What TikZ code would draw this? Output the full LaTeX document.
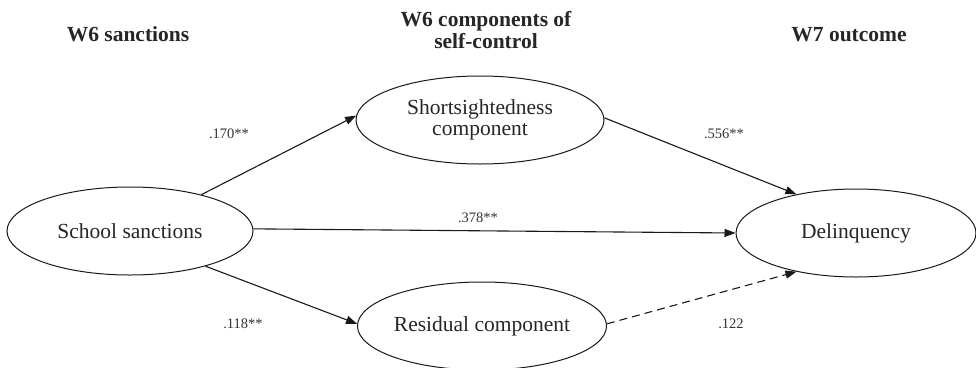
\documentclass[tikz,border=0pt]{standalone}
\usepackage{fontspec}
\setmainfont{Liberation Serif}
\usetikzlibrary{shapes.geometric,arrows.meta}
\begin{document}
\begin{tikzpicture}[x=1pt,y=-1pt,
  latent/.style={draw=black!90,line width=1pt,ellipse,inner sep=0pt,minimum height=88pt,align=center,text=black!85,font=\fontsize{21.5}{20.5}\selectfont},
  head/.style={align=center,text=black!85,font=\bfseries\fontsize{21.5}{22}\selectfont},
  coef/.style={text=black!80,font=\fontsize{14.5}{16}\selectfont},
  effect/.style={draw=black!90,line width=1.1pt,-{Triangle[length=11pt,width=8pt]}},
  ]
\useasboundingbox (0,0) rectangle (976,367);
\fill[white] (0,0) rectangle (976,367);

% column headings
\node[head,anchor=base] (h1) at (128,41) {W6 sanctions};
\node[head] (h2) at (486,30) {W6 components of\\self-control};
\node[head,anchor=base] (h3) at (849,41) {W7 outcome};

% latent variables
\node[latent,minimum width=246pt] (school) at (130,231) {School sanctions};
\node[latent,minimum width=248pt] (short) at (480,120) {Shortsightedness\\component};
\node[latent,minimum width=248pt] (resid) at (482,326) {Residual component};
\node[latent,minimum width=240pt] (delinq) at (856,233) {Delinquency};

% paths
\draw[effect] (school.27) -- (short.178);
\draw[effect] (short.1) -- (delinq.147.6);
\draw[effect] (school.1) -- (delinq.180);
\draw[effect] (school.-25) -- (resid.179.5);
\draw[effect,dash pattern=on 8pt off 5pt] (resid.1) -- (delinq.213.5);

% coefficients
\node[coef] (c1) at (229,134) {.170**};
\node[coef] (c2) at (724,134) {.556**};
\node[coef] (c3) at (478,218) {.378**};
\node[coef] (c4) at (243,324) {.118**};
\node[coef] (c5) at (731,324) {.122};
\end{tikzpicture}
\end{document}
